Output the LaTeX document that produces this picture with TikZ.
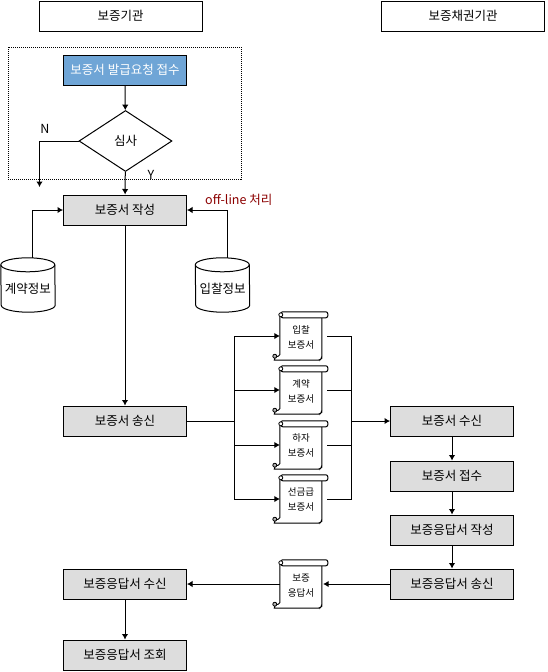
\documentclass[tikz,border=0pt]{standalone}
\usepackage{fontspec}
\setmainfont{Noto Sans CJK KR}
\usetikzlibrary{arrows.meta,shapes.geometric}
\definecolor{bluefill}{HTML}{6FA5D6}
\definecolor{greyfill}{HTML}{DDDDDD}
\definecolor{darkred}{HTML}{8B0000}
\tikzset{
  base/.style={draw=black,line width=1pt,inner sep=0pt,font=\fontsize{12.5}{14}\selectfont},
  headbox/.style={base,minimum width=163pt,minimum height=30pt},
  stepbox/.style={base,fill=greyfill,minimum width=123pt,minimum height=30pt},
  bluebox/.style={stepbox,fill=bluefill,text=white},
  decision/.style={base,diamond,aspect=1.52,minimum width=93pt,minimum height=61pt},
  dbhold/.style={inner sep=0pt,minimum width=54pt,minimum height=54pt,font=\fontsize{12.5}{14}\selectfont},
  scrollhold/.style={inner sep=0pt,minimum width=48pt,minimum height=48pt},
  scrolltext/.style={inner sep=0pt,align=center,font=\fontsize{9.5}{15}\selectfont},
  conn/.style={line width=1pt},
  arr/.style={line width=1pt,-{Latex[length=5.5pt,width=6.5pt]}},
  lab/.style={inner sep=0pt,font=\fontsize{12.5}{14}\selectfont},
}
\newcommand{\scrollshape}[1]{%
  \draw[line width=1pt,fill=white,rounded corners=1.5pt]
    ([xshift=0pt,yshift=-5pt]#1.north west) -- ([yshift=4pt]#1.south west)
    -- ([xshift=-3pt,yshift=4pt]#1.south west)
    to[out=200,in=180] ([xshift=-4pt,yshift=0pt]#1.south west)
    -- ([xshift=40pt]#1.south west) -- ([xshift=42pt,yshift=2pt]#1.south west)
    -- ([xshift=42pt,yshift=-6pt]#1.north west);
  \draw[line width=1pt,fill=white,rounded corners=2pt]
    ([xshift=1pt]#1.north west) rectangle ([xshift=48pt,yshift=-6pt]#1.north west);
  \draw[line width=.8pt,fill=white] ([xshift=1pt,yshift=-3pt]#1.north west) circle (2pt);
  \draw[line width=.8pt,fill=gray!60] ([xshift=-5pt,yshift=4pt]#1.south west) circle (2pt);
}
\newcommand{\cylshape}[1]{%
  \draw[line width=1pt,fill=white]
    ([yshift=-7pt]#1.north west) arc[start angle=180,end angle=0,x radius=27pt,y radius=7pt]
    -- ([yshift=7pt]#1.south east) arc[start angle=0,end angle=-180,x radius=27pt,y radius=7pt]
    -- cycle;
  \draw[line width=1pt] ([yshift=-7pt]#1.north west) arc[start angle=180,end angle=360,x radius=27pt,y radius=7pt];
}
\begin{document}
\begin{tikzpicture}[x=1pt,y=-1pt]
\useasboundingbox (0,0) rectangle (547,672);
\node[headbox] (h1) at (120.5,16) {보증기관};
\node[headbox] (h2) at (463,16) {보증채권기관};
\draw[line width=1pt,dash pattern=on 1pt off 1pt] (8,47) rectangle (241,179);
\node[bluebox] (req) at (125,70) {보증서 발급요청 접수};
\node[decision] (dec) at (125.5,141) {심사};
\node[stepbox] (write) at (125,210) {보증서 작성};
\node[stepbox] (send) at (125,421) {보증서 송신};
\node[dbhold] (c1) at (28,285) {};
\node[dbhold] (c2) at (222.5,285) {};
\cylshape{c1}\cylshape{c2}
\node[dbhold] (c1t) at (28,289) {계약정보};
\node[dbhold] (c2t) at (222.5,289) {입찰정보};
\node[stepbox] (rx) at (452,421) {보증서 수신};
\node[stepbox] (acc) at (452,476) {보증서 접수};
\node[stepbox] (rw) at (452,530) {보증응답서 작성};
\node[stepbox] (rs) at (452,584) {보증응답서 송신};
\node[stepbox] (rr) at (125,584) {보증응답서 수신};
\node[stepbox] (rq) at (125,655) {보증응답서 조회};
\node[lab,text=darkred,anchor=west] (off) at (205,199.5) {off-line 처리};
\node[lab] (nn) at (45,129) {N};
\node[lab] (yy) at (151,175) {Y};
\node[scrollhold] (s1) at (304,336) {};
\node[scrollhold] (s2) at (304,390) {};
\node[scrollhold] (s3) at (304,445) {};
\node[scrollhold] (s4) at (304,499) {};
\node[scrollhold] (s5) at (304,584) {};
\scrollshape{s1}\scrollshape{s2}\scrollshape{s3}\scrollshape{s4}\scrollshape{s5}
\node[scrolltext] (t1) at (301,337.5) {입찰\\보증서};
\node[scrolltext] (t2) at (301,391) {계약\\보증서};
\node[scrolltext] (t3) at (301,445.5) {하자\\보증서};
\node[scrolltext] (t4) at (301,499.5) {선금급\\보증서};
\node[scrolltext] (t5) at (301,585.5) {보증\\응답서};
\coordinate (nend) at (39.5,187);
\coordinate (busl) at (234,421);
\coordinate (busr) at (351.5,421);
\draw[arr] (req) -- (dec);
\draw[arr] (dec.west) -| (nend);
\draw[arr] (dec) -- (write);
\draw[arr] ([xshift=4.5pt]c1.north) |- (write.west);
\draw[arr] ([xshift=4.5pt]c2.north) |- (write.east);
\draw[arr] (write) -- (send);
\draw[conn] (send) -- (busl);
\draw[arr] (busl) |- (s1.west);
\draw[arr] (busl) |- (s2.west);
\draw[arr] (busl) |- (s3.west);
\draw[arr] (busl) |- (s4.west);
\draw[conn] ([xshift=-1pt]s1.east) -| (busr);
\draw[conn] ([xshift=-1pt]s2.east) -| (busr);
\draw[conn] ([xshift=-1pt]s3.east) -| (busr);
\draw[conn] ([xshift=-1pt]s4.east) -| (busr);
\draw[arr] (busr) -- (rx);
\draw[arr] (rx) -- (acc);
\draw[arr] (acc) -- (rw);
\draw[arr] (rw) -- (rs);
\draw[arr] (rs) -- ([xshift=-5pt]s5.east);
\draw[arr] (s5.west) -- (rr);
\draw[arr] (rr) -- (rq);
\end{tikzpicture}
\end{document}
